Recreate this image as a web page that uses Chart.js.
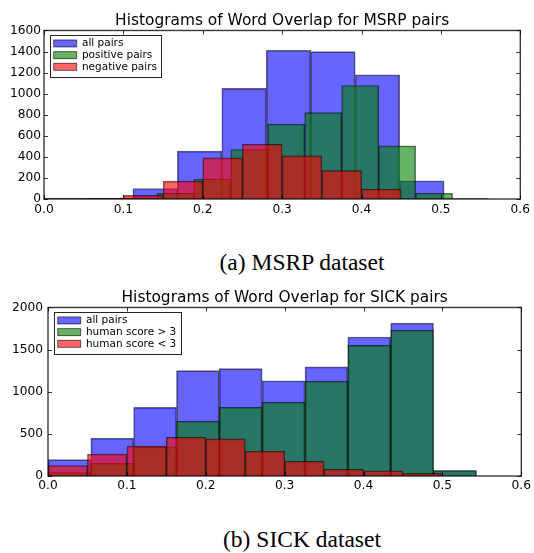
<!DOCTYPE html>
<html><head><meta charset="utf-8">
<script src="https://cdn.jsdelivr.net/npm/chart.js@4.4.1/dist/chart.umd.min.js"></script>
<style>
html,body{margin:0;padding:0;background:#fff;}
body{width:534px;height:553px;position:relative;overflow:hidden;}
.wrap{position:absolute;left:0;width:534px;height:230px;}
.cap{position:absolute;font-family:"Liberation Serif","Times New Roman",serif;font-size:23.5px;line-height:23.5px;white-space:nowrap;transform:translateX(-50%);color:#000;}
</style></head><body>
<div class="wrap" style="top:0"><canvas id="c1" width="534" height="230"></canvas></div>
<div class="cap" style="left:302px;top:251px">(a) MSRP dataset</div>
<div class="wrap" style="top:277px"><canvas id="c2" width="534" height="230"></canvas></div>
<div class="cap" style="left:302px;top:528px">(b) SICK dataset</div>
<script>
// ---- data ----
const xTicks = [0.0, 0.1, 0.2, 0.3, 0.4, 0.5, 0.6];

const msrpTitle = 'Histograms of Word Overlap for MSRP pairs';
const msrpLabels = ['all pairs', 'positive pairs', 'negative pairs'];
const msrpAllRange = [0.0, 0.56];
const msrpAllCounts = [4, 6, 100, 455, 1050, 1412, 1400, 1180, 173, 3];
const msrpPosRange = [0.049, 0.5147];
const msrpPosCounts = [2, 10, 55, 190, 470, 710, 820, 1078, 505, 55];
const msrpNegRange = [0.0, 0.5];
const msrpNegCounts = [3, 3, 35, 170, 390, 520, 410, 270, 93, 2];
const msrpYTicks = [0, 200, 400, 600, 800, 1000, 1200, 1400, 1600];

const sickTitle = 'Histograms of Word Overlap for SICK pairs';
const sickLabels = ['all pairs', 'human score > 3', 'human score < 3'];
const sickAllRange = [0.0, 0.543];
const sickAllCounts = [195, 450, 815, 1250, 1275, 1130, 1295, 1650, 1815, 65];
const sickHighRange = [0.0, 0.543];
const sickHighCounts = [40, 150, 345, 650, 815, 875, 1125, 1550, 1730, 65];
const sickLowRange = [0.0, 0.5];
const sickLowCounts = [125, 260, 355, 460, 440, 295, 175, 80, 62, 33];
const sickYTicks = [0, 500, 1000, 1500, 2000];

// ---- helpers ----
Chart.defaults.font.family = '"DejaVu Sans", sans-serif';
Chart.defaults.color = '#000';

function bins(range, counts) {
  const w = (range[1] - range[0]) / counts.length;
  return counts.map((c, i) => ({ x: range[0] + (i + 0.5) * w, y: c }));
}

const fills = ['rgba(0,0,255,0.6)', 'rgba(0,128,0,0.6)', 'rgba(255,0,0,0.6)'];
const legendFont = 10.5;

const framePlugin = {
  id: 'frame',
  afterLayout(chart) {
    const lg = chart.legend, ca = chart.chartArea;
    if (lg) {
      lg.left = ca.left + 8.5; lg.top = ca.top + 6.5;
      lg.right = ca.right; lg.bottom = ca.bottom;
    }
  },
  afterDraw(chart) {
    const { ctx, chartArea: ca, scales } = chart;
    ctx.save();
    ctx.strokeStyle = 'rgba(0,0,0,0.8)';
    ctx.lineWidth = 1;
    const tl = 4;
    ctx.beginPath();
    scales.x.ticks.forEach(t => {
      const px = Math.round(scales.x.getPixelForValue(t.value)) + 0.5;
      ctx.moveTo(px, ca.bottom); ctx.lineTo(px, ca.bottom - tl);
      ctx.moveTo(px, ca.top); ctx.lineTo(px, ca.top + tl);
    });
    scales.y.ticks.forEach(t => {
      const py = Math.round(scales.y.getPixelForValue(t.value)) + 0.5;
      ctx.moveTo(ca.left, py); ctx.lineTo(ca.left + tl, py);
      ctx.moveTo(ca.right, py); ctx.lineTo(ca.right - tl, py);
    });
    ctx.stroke();
    ctx.lineWidth = 1.4;
    ctx.strokeStyle = 'rgba(0,0,0,0.78)';
    ctx.strokeRect(ca.left, ca.top, ca.right - ca.left, ca.bottom - ca.top);
    // legend frame
    const lg = chart.legend;
    if (lg && lg.legendItems && lg.legendItems.length) {
      ctx.font = legendFont + 'px "DejaVu Sans"';
      let maxW = 0;
      lg.legendItems.forEach(it => { maxW = Math.max(maxW, ctx.measureText(it.text).width); });
      const pad = lg.options.labels.padding;
      const x0 = lg.left + pad - 4;
      const x1 = lg.left + pad + 23 + legendFont / 2 + maxW + 4;
      const y0 = ca.top + 5;
      const y1 = ca.top + 47;
      ctx.lineWidth = 1;
      ctx.strokeStyle = 'rgba(0,0,0,0.85)';
      ctx.strokeRect(Math.round(x0) + 0.5, Math.round(y0) + 0.5, Math.round(x1 - x0), Math.round(y1 - y0));
    }
    ctx.restore();
  }
};

function makeChart(id, o) {
  const datasets = o.series.map((s, i) => ({
    label: o.labels[i],
    data: bins(s.range, s.counts),
    xAxisID: i === 0 ? 'x' : 'x' + (i + 1),
    backgroundColor: fills[i],
    borderColor: 'rgba(0,0,0,0.6)',
    borderWidth: 1,
    order: 3 - i,
    barPercentage: 1,
    categoryPercentage: 1,
    grouped: false
  }));
  const hiddenX = () => ({ type: 'linear', display: false, min: 0, max: 0.6, offset: false,
    afterBuildTicks: s => { s.ticks = xTicks.map(v => ({ value: v })); } });
  return new Chart(document.getElementById(id), {
    type: 'bar',
    data: { datasets },
    options: {
      responsive: false,
      animation: false,
      events: [],
      layout: { padding: { left: 0, right: o.rightPad, top: 0, bottom: 11 } },
      scales: {
        x: {
          type: 'linear', min: 0, max: 0.6, offset: false,
          grid: { display: false, drawTicks: false, offset: false },
          border: { display: false },
          afterBuildTicks: s => { s.ticks = xTicks.map(v => ({ value: v })); },
          afterFit: s => { s.height = 20; },
          ticks: { padding: o.xPad, color: '#000', font: { size: 12.2 }, maxRotation: 0,
            callback: v => Number(v).toFixed(1) }
        },
        x2: hiddenX(),
        x3: hiddenX(),
        y: {
          type: 'linear', min: 0, max: o.yTicks[o.yTicks.length - 1],
          grid: { display: false, drawTicks: false },
          border: { display: false },
          afterBuildTicks: s => { s.ticks = o.yTicks.map(v => ({ value: v })); },
          afterFit: s => { s.width = o.leftW; },
          ticks: { padding: o.yPad, color: '#000', font: { size: 12.2 },
            callback: v => String(v) }
        }
      },
      plugins: {
        tooltip: { enabled: false },
        title: {
          display: true, text: o.title, fullSize: false, color: '#000',
          font: { size: 15.4, weight: 'normal' },
          padding: { top: 11.5, bottom: 0.5 }
        },
        legend: {
          position: 'chartArea', align: 'start',
          labels: {
            boxWidth: 23, boxHeight: 7, padding: 1.2, color: '#000',
            font: { size: legendFont },
            sort: (a, b) => a.datasetIndex - b.datasetIndex
          }
        }
      }
    },
    plugins: [framePlugin]
  });
}

makeChart('c1', {
  title: msrpTitle, labels: msrpLabels, yTicks: msrpYTicks,
  series: [
    { range: msrpAllRange, counts: msrpAllCounts },
    { range: msrpPosRange, counts: msrpPosCounts },
    { range: msrpNegRange, counts: msrpNegCounts }
  ],
  leftW: 44, rightPad: 11, yPad: 3, xPad: 4
});
makeChart('c2', {
  title: sickTitle, labels: sickLabels, yTicks: sickYTicks,
  series: [
    { range: sickAllRange, counts: sickAllCounts },
    { range: sickHighRange, counts: sickHighCounts },
    { range: sickLowRange, counts: sickLowCounts }
  ],
  leftW: 48, rightPad: 9, yPad: 5, xPad: 3
});
</script>
</body></html>
